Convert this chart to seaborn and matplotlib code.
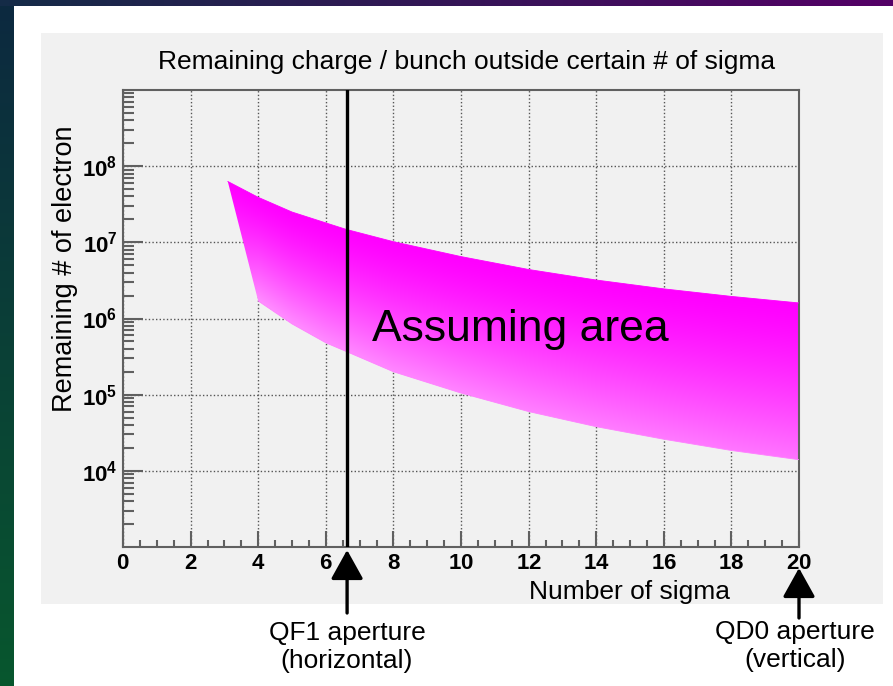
import numpy as np
import matplotlib
matplotlib.use("Agg")
import matplotlib.pyplot as plt
from matplotlib.patches import Polygon, Rectangle
from matplotlib.ticker import (MultipleLocator, LogLocator, FixedLocator,
                               NullFormatter, FixedFormatter)
import seaborn as sns

# Upper edge of the band: sigma vs remaining electrons
sigma_upper = [3.1, 4.0, 5.0, 6.0, 6.6, 8.0, 10.0, 12.0, 14.0, 16.0, 18.0, 20.0]
charge_upper = [6.3e7, 3.9e7, 2.5e7, 1.8e7, 1.48e7, 1.02e7, 6.5e6, 4.4e6, 3.2e6, 2.45e6, 1.95e6, 1.6e6]

# Lower edge of the band
sigma_lower = [4.0, 5.0, 6.0, 6.6, 8.0, 10.0, 12.0, 14.0, 16.0, 18.0, 20.0]
charge_lower = [1.7e6, 8.5e5, 4.8e5, 3.7e5, 2.0e5, 1.05e5, 6.0e4, 3.8e4, 2.6e4, 1.85e4, 1.4e4]

qf1_sigma = 6.63
qd0_sigma = 20.0
x_ticks = [0, 2, 4, 6, 8, 10, 12, 14, 16, 18, 20]
y_decades = [4, 5, 6, 7, 8]

W, H = 893, 686
sns.set_style("ticks")
plt.rcParams["font.family"] = ["Liberation Sans", "DejaVu Sans"]
plt.rcParams["text.color"] = "black"
plt.rcParams["mathtext.fontset"] = "custom"
plt.rcParams["mathtext.rm"] = "Liberation Sans"
plt.rcParams["mathtext.bf"] = "Liberation Sans:bold"

fig = plt.figure(figsize=(W / 100, H / 100), dpi=100, facecolor="white")


def fx(px):
    return px / W


def fy(py):
    return 1 - py / H


# slide background strips
left_ax = fig.add_axes([0, 0, fx(14), 1])
left_grad = np.linspace(0, 1, 200)[:, None]
left_cols = np.array([[0.05, 0.16, 0.25]]) * (1 - left_grad) + np.array([[0.03, 0.34, 0.18]]) * left_grad
left_ax.imshow(left_cols[:, None, :], aspect="auto", extent=[0, 1, 1, 0])
left_ax.axis("off")

top_ax = fig.add_axes([0, fy(6), 1, 6 / H])
top_grad = np.linspace(0, 1, 300)[None, :, None]
top_cols = np.array([0.08, 0.17, 0.28]) * (1 - top_grad) + np.array([0.33, 0.0, 0.40]) * top_grad
top_ax.imshow(top_cols, aspect="auto", extent=[0, 1, 0, 1])
top_ax.axis("off")

# grey canvas panel (behind the plotting axes)
fig.patches.append(Rectangle((fx(41), fy(604)), fx(883) - fx(41), fy(33) - fy(604),
                             transform=fig.transFigure, facecolor="#f1f1f1",
                             edgecolor="none", zorder=-5))

ax = fig.add_axes([fx(123), fy(547), fx(799) - fx(123), fy(90) - fy(547)])
ax.set_facecolor("#f1f1f1")

# magenta gradient image, clipped to the band polygon
nu, nv = 700, 500
u = np.linspace(0, 1, nu)
v = np.linspace(0, 1, nv)
xx = 20 * u[None, :]
ly = 3 + 6 * v[:, None]
up = np.interp(xx, sigma_upper, np.log10(charge_upper))
lo = np.interp(xx, sigma_lower, np.log10(charge_lower))
t = np.clip((ly - lo) / np.maximum(up - lo, 1e-6), 0, 1)
shade = 0.58 * (1 - t) ** 1.3 * (1.0 - 0.22 * u[None, :])
img = np.dstack([np.ones_like(shade), shade, np.ones_like(shade)])
im = ax.imshow(img, extent=[0, 1, 0, 1], transform=ax.transAxes, origin="lower",
               aspect="auto", interpolation="bilinear", zorder=2)

ax.set_yscale("log")
ax.set_xlim(0, 20)
ax.set_ylim(1e3, 1e9)

band_x = list(sigma_upper) + list(sigma_lower[::-1])
band_y = list(charge_upper) + list(charge_lower[::-1])
band = Polygon(np.column_stack([band_x, band_y]), closed=True,
               facecolor="none", edgecolor="none", transform=ax.transData)
ax.add_patch(band)
im.set_clip_path(band)

sns.lineplot(x=sigma_upper, y=charge_upper, ax=ax, color="#ff00ff", lw=0.6, zorder=3)
sns.lineplot(x=sigma_lower, y=charge_lower, ax=ax, color="#ff80ff", lw=0.6, zorder=3)

# grid and frame
ax.grid(True, which="major", color="#555555", lw=1.0, linestyle=(0, (1, 1.6)), zorder=1)
ax.set_axisbelow(True)
for s in ax.spines.values():
    s.set_visible(True)
    s.set_color("#606060")
    s.set_linewidth(1.5)

ax.xaxis.set_major_locator(FixedLocator(x_ticks))
ax.xaxis.set_major_formatter(FixedFormatter([rf"$\mathbf{{{t_}}}$" for t_ in x_ticks]))
ax.xaxis.set_minor_locator(MultipleLocator(0.5))
ax.xaxis.set_minor_formatter(NullFormatter())
ax.yaxis.set_major_locator(FixedLocator([10.0 ** d for d in y_decades]))
ax.yaxis.set_major_formatter(FixedFormatter([rf"$\mathbf{{10^{{{d}}}}}$" for d in y_decades]))
ax.yaxis.set_minor_locator(LogLocator(base=10, subs=np.arange(2, 10), numticks=50))
ax.yaxis.set_minor_formatter(NullFormatter())

ax.tick_params(axis="x", which="major", direction="in", length=11.5, width=1.5,
               color="#606060", labelcolor="black", labelsize=16, pad=4, top=False)
ax.tick_params(axis="x", which="minor", direction="in", length=5, width=1.5,
               color="#606060", top=False)
ax.tick_params(axis="y", which="major", direction="in", length=14.5, width=1.5,
               color="#606060", labelcolor="black", labelsize=16, pad=4, right=False)
ax.tick_params(axis="y", which="minor", direction="in", length=8, width=1.5,
               color="#606060", right=False)
ax.set_xlabel("")
ax.set_ylabel("")

# aperture markers
ax.axvline(qf1_sigma, color="black", lw=2.4, zorder=4)
arrow_kw = dict(arrowstyle="-|>,head_length=0.9,head_width=0.5", color="black",
                lw=2.4, shrinkA=0, shrinkB=0, mutation_scale=20)
ax.annotate("", xy=(qf1_sigma, H - 550), xytext=(qf1_sigma, H - 613),
            xycoords=("data", "figure pixels"), textcoords=("data", "figure pixels"),
            arrowprops=arrow_kw, annotation_clip=False)
ax.annotate("", xy=(qd0_sigma, H - 568), xytext=(qd0_sigma, H - 618),
            xycoords=("data", "figure pixels"), textcoords=("data", "figure pixels"),
            arrowprops=arrow_kw, annotation_clip=False)

ax.text(7.37, 10 ** 5.71, "Assuming area", fontsize=32, color="black",
        ha="left", va="baseline", zorder=5)

# titles and labels
fig.text(fx(467), fy(62), "Remaining charge / bunch outside certain # of sigma",
         fontsize=19, ha="center", va="center")
fig.text(fx(730), fy(592), "Number of sigma", fontsize=19, ha="right", va="center")
fig.text(fx(65), fy(125), "Remaining # of electron", fontsize=19.5, rotation=90,
         ha="center", va="top")
fig.text(fx(347), fy(647), "QF1 aperture\n(horizontal)", fontsize=19,
         ha="center", va="center", linespacing=1.25)
fig.text(fx(795), fy(646), "QD0 aperture\n(vertical)", fontsize=19,
         ha="center", va="center", linespacing=1.25)

fig.savefig("out.png", dpi=100, facecolor="white")
